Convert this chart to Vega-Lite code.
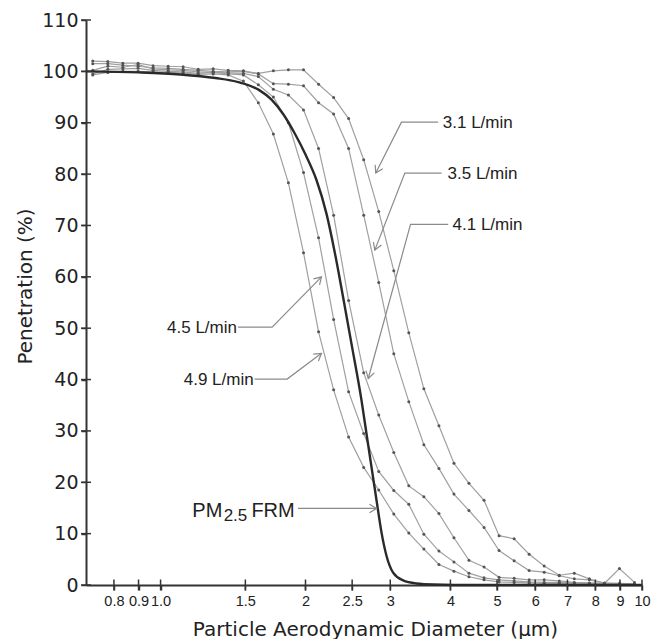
{
  "$schema": "https://vega.github.io/schema/vega-lite/v6.json",
  "width": 556,
  "height": 565,
  "autosize": {"type": "none"},
  "padding": {"left": 86, "top": 20, "right": 9, "bottom": 54},
  "background": "white",
  "config": {"view": {"stroke": null}},
  "datasets": {
    "curves": [
      {"s":"3.1","d":0.723,"p":102.0},{"s":"3.1","d":0.777,"p":101.9},{"s":"3.1","d":0.835,"p":101.6},{"s":"3.1","d":0.898,"p":101.6},{"s":"3.1","d":0.965,"p":101.1},{"s":"3.1","d":1.037,"p":101.0},{"s":"3.1","d":1.114,"p":100.9},{"s":"3.1","d":1.197,"p":100.4},{"s":"3.1","d":1.286,"p":100.5},{"s":"3.1","d":1.382,"p":100.2},{"s":"3.1","d":1.486,"p":100.1},{"s":"3.1","d":1.596,"p":99.6},{"s":"3.1","d":1.715,"p":100.1},{"s":"3.1","d":1.843,"p":100.3},{"s":"3.1","d":1.981,"p":100.3},{"s":"3.1","d":2.129,"p":97.5},{"s":"3.1","d":2.288,"p":94.9},{"s":"3.1","d":2.458,"p":90.8},{"s":"3.1","d":2.642,"p":82.8},{"s":"3.1","d":2.839,"p":72.7},{"s":"3.1","d":3.051,"p":61.2},{"s":"3.1","d":3.278,"p":49.1},{"s":"3.1","d":3.523,"p":38.2},{"s":"3.1","d":3.786,"p":31.0},{"s":"3.1","d":4.068,"p":23.7},{"s":"3.1","d":4.371,"p":19.8},{"s":"3.1","d":4.698,"p":16.5},{"s":"3.1","d":5.048,"p":9.6},{"s":"3.1","d":5.425,"p":9.0},{"s":"3.1","d":5.829,"p":6.0},{"s":"3.1","d":6.264,"p":3.7},{"s":"3.1","d":6.732,"p":1.9},{"s":"3.1","d":7.234,"p":2.3},{"s":"3.1","d":7.774,"p":1.2},{"s":"3.1","d":8.354,"p":0.3},{"s":"3.1","d":8.977,"p":3.2},{"s":"3.1","d":9.647,"p":0.5},
      {"s":"3.5","d":0.723,"p":101.5},{"s":"3.5","d":0.777,"p":101.5},{"s":"3.5","d":0.835,"p":101.2},{"s":"3.5","d":0.898,"p":101.0},{"s":"3.5","d":0.965,"p":100.7},{"s":"3.5","d":1.037,"p":100.6},{"s":"3.5","d":1.114,"p":100.4},{"s":"3.5","d":1.197,"p":100.2},{"s":"3.5","d":1.286,"p":100.0},{"s":"3.5","d":1.382,"p":99.9},{"s":"3.5","d":1.486,"p":100.0},{"s":"3.5","d":1.596,"p":99.5},{"s":"3.5","d":1.715,"p":97.6},{"s":"3.5","d":1.843,"p":97.5},{"s":"3.5","d":1.981,"p":97.2},{"s":"3.5","d":2.129,"p":93.9},{"s":"3.5","d":2.288,"p":91.7},{"s":"3.5","d":2.458,"p":85.0},{"s":"3.5","d":2.642,"p":72.0},{"s":"3.5","d":2.839,"p":58.9},{"s":"3.5","d":3.051,"p":45.0},{"s":"3.5","d":3.278,"p":35.7},{"s":"3.5","d":3.523,"p":27.3},{"s":"3.5","d":3.786,"p":22.7},{"s":"3.5","d":4.068,"p":17.7},{"s":"3.5","d":4.371,"p":14.5},{"s":"3.5","d":4.698,"p":11.2},{"s":"3.5","d":5.048,"p":6.7},{"s":"3.5","d":5.425,"p":4.7},{"s":"3.5","d":5.829,"p":2.8},{"s":"3.5","d":6.264,"p":2.5},{"s":"3.5","d":6.732,"p":1.8},{"s":"3.5","d":7.234,"p":1.2},{"s":"3.5","d":7.774,"p":1.0},{"s":"3.5","d":8.354,"p":0.4},{"s":"3.5","d":8.977,"p":0.3},{"s":"3.5","d":9.647,"p":0.2},
      {"s":"4.1","d":0.723,"p":100.2},{"s":"4.1","d":0.777,"p":101.0},{"s":"4.1","d":0.835,"p":100.8},{"s":"4.1","d":0.898,"p":101.3},{"s":"4.1","d":0.965,"p":100.5},{"s":"4.1","d":1.037,"p":100.3},{"s":"4.1","d":1.114,"p":100.2},{"s":"4.1","d":1.197,"p":99.9},{"s":"4.1","d":1.286,"p":99.8},{"s":"4.1","d":1.382,"p":99.7},{"s":"4.1","d":1.486,"p":99.6},{"s":"4.1","d":1.596,"p":99.0},{"s":"4.1","d":1.715,"p":96.5},{"s":"4.1","d":1.843,"p":95.4},{"s":"4.1","d":1.981,"p":92.5},{"s":"4.1","d":2.129,"p":85.0},{"s":"4.1","d":2.288,"p":72.0},{"s":"4.1","d":2.458,"p":55.4},{"s":"4.1","d":2.642,"p":41.3},{"s":"4.1","d":2.839,"p":33.1},{"s":"4.1","d":3.051,"p":25.8},{"s":"4.1","d":3.278,"p":19.3},{"s":"4.1","d":3.523,"p":17.2},{"s":"4.1","d":3.786,"p":13.9},{"s":"4.1","d":4.068,"p":9.2},{"s":"4.1","d":4.371,"p":4.8},{"s":"4.1","d":4.698,"p":3.5},{"s":"4.1","d":5.048,"p":1.5},{"s":"4.1","d":5.425,"p":1.3},{"s":"4.1","d":5.829,"p":1.0},{"s":"4.1","d":6.264,"p":1.0},{"s":"4.1","d":6.732,"p":0.8},{"s":"4.1","d":7.234,"p":0.5},{"s":"4.1","d":7.774,"p":0.4},{"s":"4.1","d":8.354,"p":0.3},{"s":"4.1","d":8.977,"p":0.2},{"s":"4.1","d":9.647,"p":0.1},
      {"s":"4.5","d":0.723,"p":99.5},{"s":"4.5","d":0.777,"p":100.4},{"s":"4.5","d":0.835,"p":100.5},{"s":"4.5","d":0.898,"p":100.6},{"s":"4.5","d":0.965,"p":100.2},{"s":"4.5","d":1.037,"p":100.0},{"s":"4.5","d":1.114,"p":99.9},{"s":"4.5","d":1.197,"p":99.6},{"s":"4.5","d":1.286,"p":99.8},{"s":"4.5","d":1.382,"p":99.5},{"s":"4.5","d":1.486,"p":99.3},{"s":"4.5","d":1.596,"p":97.4},{"s":"4.5","d":1.715,"p":95.0},{"s":"4.5","d":1.843,"p":90.0},{"s":"4.5","d":1.981,"p":80.3},{"s":"4.5","d":2.129,"p":67.6},{"s":"4.5","d":2.288,"p":51.7},{"s":"4.5","d":2.458,"p":37.6},{"s":"4.5","d":2.642,"p":29.5},{"s":"4.5","d":2.839,"p":22.1},{"s":"4.5","d":3.051,"p":18.4},{"s":"4.5","d":3.278,"p":15.7},{"s":"4.5","d":3.523,"p":9.9},{"s":"4.5","d":3.786,"p":6.6},{"s":"4.5","d":4.068,"p":4.5},{"s":"4.5","d":4.371,"p":2.3},{"s":"4.5","d":4.698,"p":1.4},{"s":"4.5","d":5.048,"p":1.0},{"s":"4.5","d":5.425,"p":0.8},{"s":"4.5","d":5.829,"p":0.6},{"s":"4.5","d":6.264,"p":0.5},{"s":"4.5","d":6.732,"p":0.5},{"s":"4.5","d":7.234,"p":0.4},{"s":"4.5","d":7.774,"p":0.3},{"s":"4.5","d":8.354,"p":0.2},{"s":"4.5","d":8.977,"p":0.2},{"s":"4.5","d":9.647,"p":0.1},
      {"s":"4.9","d":0.723,"p":99.3},{"s":"4.9","d":0.777,"p":99.8},{"s":"4.9","d":0.835,"p":100.0},{"s":"4.9","d":0.898,"p":100.0},{"s":"4.9","d":0.965,"p":99.9},{"s":"4.9","d":1.037,"p":99.8},{"s":"4.9","d":1.114,"p":99.7},{"s":"4.9","d":1.197,"p":99.4},{"s":"4.9","d":1.286,"p":99.5},{"s":"4.9","d":1.382,"p":99.3},{"s":"4.9","d":1.486,"p":98.1},{"s":"4.9","d":1.596,"p":93.9},{"s":"4.9","d":1.715,"p":87.8},{"s":"4.9","d":1.843,"p":78.3},{"s":"4.9","d":1.981,"p":64.7},{"s":"4.9","d":2.129,"p":49.3},{"s":"4.9","d":2.288,"p":38.0},{"s":"4.9","d":2.458,"p":28.8},{"s":"4.9","d":2.642,"p":22.9},{"s":"4.9","d":2.839,"p":18.5},{"s":"4.9","d":3.051,"p":13.8},{"s":"4.9","d":3.278,"p":10.1},{"s":"4.9","d":3.523,"p":7.0},{"s":"4.9","d":3.786,"p":4.0},{"s":"4.9","d":4.068,"p":2.7},{"s":"4.9","d":4.371,"p":1.6},{"s":"4.9","d":4.698,"p":1.0},{"s":"4.9","d":5.048,"p":0.6},{"s":"4.9","d":5.425,"p":0.5},{"s":"4.9","d":5.829,"p":0.4},{"s":"4.9","d":6.264,"p":0.3},{"s":"4.9","d":6.732,"p":0.3},{"s":"4.9","d":7.234,"p":0.2},{"s":"4.9","d":7.774,"p":0.2},{"s":"4.9","d":8.354,"p":0.1},{"s":"4.9","d":8.977,"p":0.1},{"s":"4.9","d":9.647,"p":0.1}
    ],
    "frm": [
      {"d":0.7,"p":100.0},{"d":0.9,"p":99.8},{"d":1.1,"p":99.4},{"d":1.3,"p":98.7},{"d":1.45,"p":97.9},{"d":1.6,"p":96.4},{"d":1.7,"p":94.5},{"d":1.8,"p":91.6},{"d":1.9,"p":87.9},{"d":2.0,"p":83.8},{"d":2.107,"p":78.9},{"d":2.211,"p":72.3},{"d":2.300,"p":64.8},{"d":2.402,"p":55.3},{"d":2.495,"p":46.7},{"d":2.614,"p":36.0},{"d":2.677,"p":29.5},{"d":2.742,"p":23.0},{"d":2.809,"p":16.5},{"d":2.876,"p":10.3},{"d":2.946,"p":5.7},{"d":3.041,"p":2.4},{"d":3.19,"p":0.9},{"d":3.401,"p":0.3},{"d":3.683,"p":0.1},{"d":4.5,"p":0.0},{"d":10,"p":0.0}
    ],
    "leaders": [
      {"id":"a","o":0,"d":3.772,"p":90.1},{"id":"a","o":1,"d":3.165,"p":90.1},{"id":"a","o":2,"d":2.799,"p":80.2},
      {"id":"b","o":0,"d":3.834,"p":80.2},{"id":"b","o":1,"d":3.216,"p":80.2},{"id":"b","o":2,"d":2.786,"p":65.2},
      {"id":"c","o":0,"d":3.957,"p":70.2},{"id":"c","o":1,"d":3.305,"p":70.2},{"id":"c","o":2,"d":2.700,"p":40.2},
      {"id":"d","o":0,"d":1.448,"p":50.2},{"id":"d","o":1,"d":1.705,"p":50.2},{"id":"d","o":2,"d":2.159,"p":60.0},
      {"id":"e","o":0,"d":1.568,"p":40.1},{"id":"e","o":1,"d":1.832,"p":40.1},{"id":"e","o":2,"d":2.159,"p":45.1},
      {"id":"f","o":0,"d":1.930,"p":14.9},{"id":"f","o":1,"d":2.809,"p":14.9}
    ],
    "tips": [
      {"id":"a","d":2.799,"p":80.2},{"id":"b","d":2.786,"p":65.2},{"id":"c","d":2.700,"p":40.2},
      {"id":"d","d":2.159,"p":60.0},{"id":"e","d":2.159,"p":45.1},{"id":"f","d":2.809,"p":14.9}
    ],
    "labelsL": [
      {"t":"3.1 L/min","d":3.857,"p":88.9},{"t":"3.5 L/min","d":3.945,"p":79.0},{"t":"4.1 L/min","d":4.041,"p":69.1}
    ],
    "labelsR": [
      {"t":"4.5 L/min","d":1.441,"p":49.1},{"t":"4.9 L/min","d":1.561,"p":38.9}
    ],
    "pm": [
      {"t":"PM","d":1.164,"p":13.3},{"t":"FRM","d":1.544,"p":13.3}
    ],
    "pmsub": [
      {"t":"2.5","d":1.352,"p":13.3}
    ],
    "yticks": [
      {"d":0.7,"p":0},{"d":0.7,"p":10},{"d":0.7,"p":20},{"d":0.7,"p":30},{"d":0.7,"p":40},{"d":0.7,"p":50},{"d":0.7,"p":60},{"d":0.7,"p":70},{"d":0.7,"p":80},{"d":0.7,"p":90},{"d":0.7,"p":100},{"d":0.7,"p":110}
    ],
    "xticks": [
      {"d":0.8,"p":0},{"d":0.9,"p":0},{"d":1.0,"p":0},{"d":1.5,"p":0},{"d":2,"p":0},{"d":2.5,"p":0},{"d":3,"p":0},{"d":4,"p":0},{"d":5,"p":0},{"d":6,"p":0},{"d":7,"p":0},{"d":8,"p":0},{"d":9,"p":0},{"d":10,"p":0}
    ]
  },
  "layer": [
    {
      "data": {"name": "curves"},
      "mark": {"type": "line", "color": "#a0a0a0", "strokeWidth": 1.2},
      "encoding": {
        "x": {
          "field": "d", "type": "quantitative",
          "scale": {"type": "log", "domain": [0.7, 10], "nice": false},
          "axis": {
            "values": [0.8, 0.9, 1, 1.5, 2, 2.5, 3, 4, 5, 6, 7, 8, 9, 10],
            "labelExpr": "datum.value == 1 ? '1.0' : toString(datum.value)",
            "labelFont": "Liberation Sans", "labelFontSize": 14.5, "labelColor": "#222",
            "labelPadding": 4, "labelOverlap": false, "labelFlush": false,
            "tickSize": 5, "tickWidth": 1.5, "tickColor": "#333",
            "domainColor": "#333", "domainWidth": 2, "grid": false,
            "title": "Particle Aerodynamic Diameter (µm)",
            "titleFont": "DejaVu Sans", "titleFontSize": 20, "titleFontWeight": "normal", "titleColor": "#222",
            "titleX": 289, "titleY": 50, "titleAlign": "center", "titleBaseline": "alphabetic"
          }
        },
        "y": {
          "field": "p", "type": "quantitative",
          "scale": {"domain": [0, 110], "nice": false},
          "axis": {
            "values": [0, 10, 20, 30, 40, 50, 60, 70, 80, 90, 100, 110],
            "labelFont": "DejaVu Sans", "labelFontSize": 19, "labelColor": "#222",
            "labelPadding": 3, "labelOverlap": false, "labelFlush": false,
            "tickSize": 5, "tickWidth": 1.5, "tickColor": "#333",
            "domainColor": "#333", "domainWidth": 2, "grid": false,
            "title": "Penetration (%)",
            "titleFont": "DejaVu Sans", "titleFontSize": 20, "titleFontWeight": "normal", "titleColor": "#222",
            "titleX": -61, "titleY": 266, "titleAngle": -90, "titleAlign": "center", "titleBaseline": "middle"
          }
        },
        "detail": {"field": "s"}
      }
    },
    {
      "data": {"name": "curves"},
      "mark": {"type": "point", "filled": true, "color": "#555", "size": 9, "opacity": 1},
      "encoding": {
        "x": {"field": "d", "type": "quantitative"},
        "y": {"field": "p", "type": "quantitative"}
      }
    },
    {
      "data": {"name": "frm"},
      "mark": {"type": "line", "color": "#2a2a2a", "strokeWidth": 2.4, "interpolate": "monotone"},
      "encoding": {
        "x": {"field": "d", "type": "quantitative"},
        "y": {"field": "p", "type": "quantitative"}
      }
    },
    {
      "data": {"name": "leaders"},
      "mark": {"type": "line", "color": "#8a8a8a", "strokeWidth": 1.2},
      "encoding": {
        "x": {"field": "d", "type": "quantitative"},
        "y": {"field": "p", "type": "quantitative"},
        "detail": {"field": "id"},
        "order": {"field": "o"}
      }
    },
    {
      "data": {"name": "tips"},
      "transform": [{"filter": "datum.id == 'a'"}],
      "mark": {"type": "point", "shape": "M-1,-0.6L0,0L-1,0.6", "filled": false, "color": "#8a8a8a", "strokeWidth": 1.2, "size": 200, "angle": 116.7, "opacity": 1},
      "encoding": {"x": {"field": "d", "type": "quantitative"}, "y": {"field": "p", "type": "quantitative"}}
    },
    {
      "data": {"name": "tips"},
      "transform": [{"filter": "datum.id == 'b'"}],
      "mark": {"type": "point", "shape": "M-1,-0.6L0,0L-1,0.6", "filled": false, "color": "#8a8a8a", "strokeWidth": 1.2, "size": 200, "angle": 111.4, "opacity": 1},
      "encoding": {"x": {"field": "d", "type": "quantitative"}, "y": {"field": "p", "type": "quantitative"}}
    },
    {
      "data": {"name": "tips"},
      "transform": [{"filter": "datum.id == 'c'"}],
      "mark": {"type": "point", "shape": "M-1,-0.6L0,0L-1,0.6", "filled": false, "color": "#8a8a8a", "strokeWidth": 1.2, "size": 200, "angle": 105.4, "opacity": 1},
      "encoding": {"x": {"field": "d", "type": "quantitative"}, "y": {"field": "p", "type": "quantitative"}}
    },
    {
      "data": {"name": "tips"},
      "transform": [{"filter": "datum.id == 'd'"}],
      "mark": {"type": "point", "shape": "M-1,-0.6L0,0L-1,0.6", "filled": false, "color": "#8a8a8a", "strokeWidth": 1.2, "size": 200, "angle": -45.3, "opacity": 1},
      "encoding": {"x": {"field": "d", "type": "quantitative"}, "y": {"field": "p", "type": "quantitative"}}
    },
    {
      "data": {"name": "tips"},
      "transform": [{"filter": "datum.id == 'e'"}],
      "mark": {"type": "point", "shape": "M-1,-0.6L0,0L-1,0.6", "filled": false, "color": "#8a8a8a", "strokeWidth": 1.2, "size": 200, "angle": -36.8, "opacity": 1},
      "encoding": {"x": {"field": "d", "type": "quantitative"}, "y": {"field": "p", "type": "quantitative"}}
    },
    {
      "data": {"name": "tips"},
      "transform": [{"filter": "datum.id == 'f'"}],
      "mark": {"type": "point", "shape": "M-1,-0.6L0,0L-1,0.6", "filled": false, "color": "#8a8a8a", "strokeWidth": 1.2, "size": 200, "angle": 0, "opacity": 1},
      "encoding": {"x": {"field": "d", "type": "quantitative"}, "y": {"field": "p", "type": "quantitative"}}
    },
    {
      "data": {"name": "labelsL"},
      "mark": {"type": "text", "align": "left", "baseline": "alphabetic", "font": "Liberation Sans", "fontSize": 17, "color": "#222"},
      "encoding": {"x": {"field": "d", "type": "quantitative"}, "y": {"field": "p", "type": "quantitative"}, "text": {"field": "t"}}
    },
    {
      "data": {"name": "labelsR"},
      "mark": {"type": "text", "align": "right", "baseline": "alphabetic", "font": "Liberation Sans", "fontSize": 17, "color": "#222"},
      "encoding": {"x": {"field": "d", "type": "quantitative"}, "y": {"field": "p", "type": "quantitative"}, "text": {"field": "t"}}
    },
    {
      "data": {"name": "pm"},
      "mark": {"type": "text", "align": "left", "baseline": "alphabetic", "font": "Liberation Sans", "fontSize": 20, "color": "#222"},
      "encoding": {"x": {"field": "d", "type": "quantitative"}, "y": {"field": "p", "type": "quantitative"}, "text": {"field": "t"}}
    },
    {
      "data": {"name": "pmsub"},
      "mark": {"type": "text", "align": "left", "baseline": "alphabetic", "font": "Liberation Sans", "fontSize": 17, "dy": 4, "color": "#222"},
      "encoding": {"x": {"field": "d", "type": "quantitative"}, "y": {"field": "p", "type": "quantitative"}, "text": {"field": "t"}}
    },
    {
      "data": {"name": "yticks"},
      "mark": {"type": "tick", "orient": "horizontal", "size": 10, "thickness": 1.5, "color": "#333", "opacity": 1},
      "encoding": {"x": {"field": "d", "type": "quantitative"}, "y": {"field": "p", "type": "quantitative"}}
    },
    {
      "data": {"name": "xticks"},
      "mark": {"type": "tick", "orient": "vertical", "size": 11, "thickness": 1.5, "color": "#333", "opacity": 1},
      "encoding": {"x": {"field": "d", "type": "quantitative"}, "y": {"field": "p", "type": "quantitative"}}
    }
  ]
}
